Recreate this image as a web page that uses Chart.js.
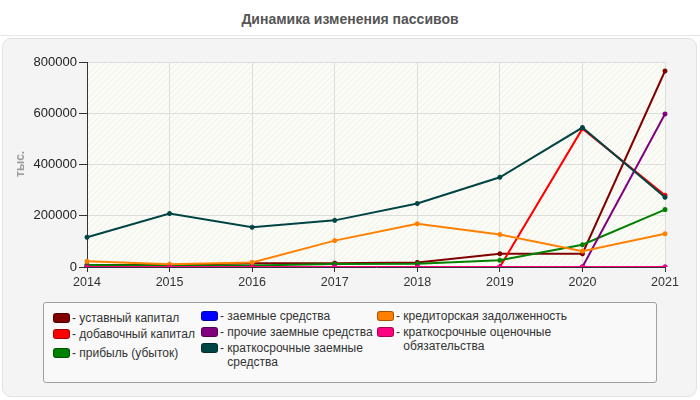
<!DOCTYPE html>
<html><head><meta charset="utf-8">
<script src="https://cdn.jsdelivr.net/npm/chart.js@4"></script>
<style>
html,body{margin:0;padding:0;background:#fff;width:700px;height:400px;overflow:hidden;font-family:"Liberation Sans",Arial,sans-serif;}
#title{position:absolute;left:0;top:11px;width:700px;text-align:center;font-weight:bold;font-size:14px;color:#555;}
#sep{position:absolute;left:0;top:35px;width:700px;height:1px;background:#e6e6e6;}
#panel{position:absolute;left:2px;top:38px;width:693px;height:357px;background:#f4f4f4;border:1px solid #e2e2e2;border-radius:9px;}
#c{position:absolute;left:0;top:0;}
#ylab{position:absolute;left:20px;top:164px;transform:translate(-50%,-50%) rotate(-90deg);font-size:12px;font-weight:bold;color:#999;}
#legend{position:absolute;left:43px;top:302px;width:612px;height:79px;background:#f9f9f9;border:1px solid #a0a0a0;border-radius:3px;}
.li{position:absolute;font-size:12px;color:#333;line-height:14px;}
.sw{position:absolute;left:0;top:2px;width:15px;height:8px;border-radius:3px;border:1px solid rgba(0,0,0,0.35);}
.tx{position:absolute;left:19px;top:0;white-space:nowrap;}
</style></head>
<body>
<div id="title">Динамика изменения пассивов</div>
<div id="sep"></div>
<div id="panel"></div>
<canvas id="c" width="700" height="400"></canvas>
<div id="ylab">тыс.</div>
<div id="legend"></div>
<script>
const years = ['2014','2015','2016','2017','2018','2019','2020','2021'];
const yTicks = [0,200000,400000,600000,800000];

const seriesNames = [
  'уставный капитал',
  'добавочный капитал',
  'прибыль (убыток)',
  'заемные средства',
  'прочие заемные средства',
  'краткосрочные заемные средства',
  'кредиторская задолженность',
  'краткосрочные оценочные обязательства'
];
const seriesColors = ['#800000','#ff0000','#008000','#0000ff','#800080','#004444','#ff8000','#ff0080'];

const ustavnyKapital   = [8000, 8000, 15000, 15000, 18000, 52000, 52000, 765000];
const dobavochnyKapital= [0, 0, 0, 0, 0, 0, 540000, 280000];
const pribyl           = [8000, 6000, 6000, 12000, 13000, 26000, 87000, 224000];
const zaemnye          = [0, 0, 0, 0, 0, 0, 0, 0];
const prochieZaemnye   = [0, 0, 0, 0, 0, 0, 0, 597000];
const kratkZaemnye     = [116000, 209000, 155000, 182000, 248000, 350000, 544000, 272000];
const kreditorskaya    = [22000, 10500, 18000, 103000, 169000, 127000, 62000, 130000];
const otsenochnye      = [0, 0, 0, 0, 0, 0, 0, 0];

const seriesData = [ustavnyKapital, dobavochnyKapital, pribyl, zaemnye, prochieZaemnye, kratkZaemnye, kreditorskaya, otsenochnye];

// legend (HTML)
const legendPos = [
  [9, 8],[9, 24],[9, 43],
  [157, 6],[157, 22],[157, 38],
  [333, 6],[333, 22]
];
const legendWrap = {5:'краткосрочные заемные<br>средства', 7:'краткосрочные оценочные<br>обязательства'};
const lg = document.getElementById('legend');
seriesNames.forEach((n,i)=>{
  const d = document.createElement('div');
  d.className='li';
  d.style.left = legendPos[i][0]+'px';
  d.style.top = legendPos[i][1]+'px';
  const txt = legendWrap[i] ? '- '+legendWrap[i] : '- '+n;
  d.innerHTML = '<div class="sw" style="background:'+seriesColors[i]+'"></div><div class="tx">'+txt.replace('<br>','<br><span style="visibility:hidden">- </span>')+'</div>';
  lg.appendChild(d);
});

// hatch pattern
function makePattern(ctx){
  const p = document.createElement('canvas');
  p.width = 6; p.height = 6;
  const g = p.getContext('2d');
  g.fillStyle = '#fcfcf6';
  g.fillRect(0,0,6,6);
  g.strokeStyle = '#efefe9';
  g.lineWidth = 1;
  g.beginPath();
  g.moveTo(0,6); g.lineTo(6,0);
  g.moveTo(-3,3); g.lineTo(3,-3);
  g.moveTo(3,9); g.lineTo(9,3);
  g.stroke();
  return ctx.createPattern(p,'repeat');
}

const bgPlugin = {
  id:'plotBg',
  beforeDraw(chart){
    const {ctx, chartArea:a} = chart;
    ctx.save();
    ctx.fillStyle = makePattern(ctx);
    ctx.fillRect(a.left, a.top, a.right-a.left, a.bottom-a.top);
    ctx.strokeStyle = '#dcdcdc';
    ctx.lineWidth = 1;
    ctx.beginPath();
    ctx.moveTo(a.left, a.top+0.5); ctx.lineTo(a.right+0.5, a.top+0.5); ctx.lineTo(a.right+0.5, a.bottom);
    ctx.stroke();
    ctx.restore();
  }
};

new Chart(document.getElementById('c'), {
  type:'line',
  data:{
    labels: years,
    datasets: seriesData.map((d,i)=>({
      label: seriesNames[i],
      data: d,
      borderColor: seriesColors[i],
      backgroundColor: seriesColors[i],
      borderWidth: 2,
      pointStyle: 'star',
      pointRadius: 2.5,
      pointBorderWidth: 1.5,
      tension: 0,
      fill: false,
      order: -i
    }))
  },
  options:{
    responsive:false,
    animation:false,
    layout:{padding:{left:0, top:62, right:35, bottom:0}},
    plugins:{legend:{display:false}, title:{display:false}, tooltip:{enabled:false}},
    scales:{
      x:{
        offset:false,
        afterFit(s){ s.height = 133; },
        grid:{color:'#dddddd', borderDash:[4,4], tickColor:'#333', tickLength:5, tickBorderDash:[]},
        border:{display:true, color:'#333', width:1},
        ticks:{color:'#333', font:{family:'"Liberation Sans", Arial', size:12.5}, padding:3, maxRotation:0, autoSkip:false}
      },
      y:{
        min:0, max:800000,
        afterFit(s){ s.width = 87; },
        afterBuildTicks(s){ s.ticks = yTicks.map(v=>({value:v})); },
        grid:{color:'#dddddd', borderDash:[4,4], tickColor:'#333', tickLength:8, tickBorderDash:[]},
        border:{display:true, color:'#333', width:1},
        ticks:{color:'#222', font:{family:'"Liberation Sans", Arial', size:13}, padding:2, callback:v=>String(v)}
      }
    }
  },
  plugins:[bgPlugin]
});
</script>
</body></html>
